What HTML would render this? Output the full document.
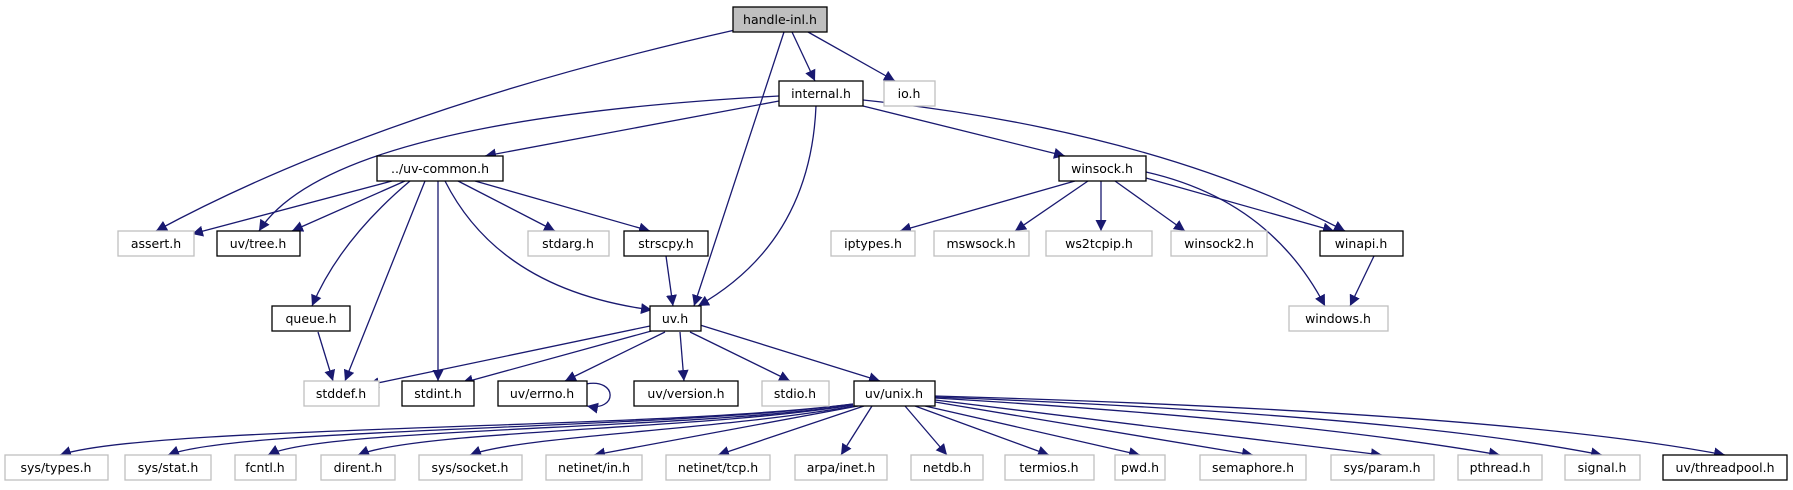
<!DOCTYPE html>
<html><head><meta charset="utf-8"><style>
body{margin:0;background:#fff;}
svg text{font-family:"DejaVu Sans","Liberation Sans",sans-serif;font-size:12.5px;fill:#000;}
</style></head><body>
<svg width="1793" height="485" viewBox="0 0 1793 485" xmlns="http://www.w3.org/2000/svg">
<defs><marker id="a" viewBox="0 0 10 10" refX="10" refY="5" markerWidth="11" markerHeight="11" markerUnits="userSpaceOnUse" orient="auto"><path d="M0,0 L10,5 L0,10 z" fill="#191970"/></marker></defs>
<g fill="none" stroke="#191970" stroke-width="1.3" marker-end="url(#a)">
<path d="M735,30 Q380,110 156,231"/>
<path d="M792,32 L815,81"/>
<path d="M808,32 L895,81"/>
<path d="M784,32 L694,306"/>
<path d="M779,96 Q330,120 259,231"/>
<path d="M779,101 L485,156"/>
<path d="M816,106 C812,200 770,265 698,306"/>
<path d="M863,106 L1065,156"/>
<path d="M863,100 Q1150,130 1345,231"/>
<path d="M392,181 L192,234"/>
<path d="M405,181 L292,231"/>
<path d="M410,181 Q340,240 312,306"/>
<path d="M425,181 L345,381"/>
<path d="M438,181 L438,381"/>
<path d="M445,181 Q500,290 652,310"/>
<path d="M458,181 L555,231"/>
<path d="M475,181 L650,231"/>
<path d="M666,256 L673,306"/>
<path d="M318,332 L333,381"/>
<path d="M1075,181 L900,231"/>
<path d="M1088,181 L1015,231"/>
<path d="M1101,181 L1101,231"/>
<path d="M1115,181 L1185,231"/>
<path d="M1146,178 L1334,231"/>
<path d="M1146,172 Q1270,200 1325,306"/>
<path d="M1374,256 L1350,306"/>
<path d="M650,326 L368,385"/>
<path d="M655,330 L462,383"/>
<path d="M665,332 L565,381"/>
<path d="M680,332 L684,381"/>
<path d="M690,332 L790,381"/>
<path d="M700,325 L880,381"/>
<path d="M586,384 C618,378 618,412 587,406"/>
<path d="M853,404 C650,430 150,425 60,455"/>
<path d="M853,404 C660,430 240,427 168,455"/>
<path d="M853,405 C680,430 320,428 268,455"/>
<path d="M853,405 C700,430 420,430 358,455"/>
<path d="M854,406 C720,430 520,436 470,455"/>
<path d="M858,406 L594,455"/>
<path d="M864,406 L718,455"/>
<path d="M872,406 L841,455"/>
<path d="M905,406 L947,455"/>
<path d="M915,406 L1049,455"/>
<path d="M925,406 L1140,455"/>
<path d="M935,402 L1253,455"/>
<path d="M935,400 L1382,455"/>
<path d="M935,398 Q1300,420 1500,455"/>
<path d="M935,397 Q1400,415 1602,455"/>
<path d="M935,396 Q1500,412 1725,455"/>
</g>
<g stroke-width="1.3">
<rect x="733" y="7" width="94" height="25" fill="#bfbfbf" stroke="#000"/>
<rect x="779" y="81" width="84" height="25" fill="#fff" stroke="#000"/>
<rect x="884" y="81" width="51" height="25" fill="#fff" stroke="#bfbfbf"/>
<rect x="377" y="156" width="126" height="25" fill="#fff" stroke="#000"/>
<rect x="1059" y="156" width="87" height="25" fill="#fff" stroke="#000"/>
<rect x="118" y="231" width="76" height="25" fill="#fff" stroke="#bfbfbf"/>
<rect x="217" y="231" width="83" height="25" fill="#fff" stroke="#000"/>
<rect x="528" y="231" width="81" height="25" fill="#fff" stroke="#bfbfbf"/>
<rect x="624" y="231" width="84" height="25" fill="#fff" stroke="#000"/>
<rect x="831" y="231" width="84" height="25" fill="#fff" stroke="#bfbfbf"/>
<rect x="934" y="231" width="95" height="25" fill="#fff" stroke="#bfbfbf"/>
<rect x="1046" y="231" width="106" height="25" fill="#fff" stroke="#bfbfbf"/>
<rect x="1171" y="231" width="96" height="25" fill="#fff" stroke="#bfbfbf"/>
<rect x="1320" y="231" width="83" height="25" fill="#fff" stroke="#000"/>
<rect x="272" y="306" width="78" height="25" fill="#fff" stroke="#000"/>
<rect x="650" y="306" width="51" height="25" fill="#fff" stroke="#000"/>
<rect x="1289" y="306" width="99" height="25" fill="#fff" stroke="#bfbfbf"/>
<rect x="304" y="381" width="75" height="25" fill="#fff" stroke="#bfbfbf"/>
<rect x="402" y="381" width="72" height="25" fill="#fff" stroke="#000"/>
<rect x="498" y="381" width="89" height="25" fill="#fff" stroke="#000"/>
<rect x="634" y="381" width="104" height="25" fill="#fff" stroke="#000"/>
<rect x="762" y="381" width="67" height="25" fill="#fff" stroke="#bfbfbf"/>
<rect x="854" y="381" width="81" height="25" fill="#fff" stroke="#000"/>
<g fill="#fff" stroke="#bfbfbf">
<rect x="5" y="455" width="103" height="25"/>
<rect x="125" y="455" width="86" height="25"/>
<rect x="235" y="455" width="61" height="25"/>
<rect x="321" y="455" width="74" height="25"/>
<rect x="419" y="455" width="103" height="25"/>
<rect x="546" y="455" width="96" height="25"/>
<rect x="666" y="455" width="104" height="25"/>
<rect x="795" y="455" width="92" height="25"/>
<rect x="911" y="455" width="72" height="25"/>
<rect x="1005" y="455" width="89" height="25"/>
<rect x="1115" y="455" width="50" height="25"/>
<rect x="1200" y="455" width="106" height="25"/>
<rect x="1331" y="455" width="103" height="25"/>
<rect x="1458" y="455" width="84" height="25"/>
<rect x="1565" y="455" width="75" height="25"/>
</g>
<rect x="1663" y="455" width="124" height="25" fill="#fff" stroke="#000"/>
</g>
<g text-anchor="middle">
<text x="780" y="24">handle-inl.h</text>
<text x="821" y="98">internal.h</text>
<text x="909" y="98">io.h</text>
<text x="440" y="173">../uv-common.h</text>
<text x="1102" y="173">winsock.h</text>
<text x="156" y="248">assert.h</text>
<text x="258" y="248">uv/tree.h</text>
<text x="568" y="248">stdarg.h</text>
<text x="666" y="248">strscpy.h</text>
<text x="873" y="248">iptypes.h</text>
<text x="981" y="248">mswsock.h</text>
<text x="1099" y="248">ws2tcpip.h</text>
<text x="1219" y="248">winsock2.h</text>
<text x="1361" y="248">winapi.h</text>
<text x="311" y="323">queue.h</text>
<text x="675" y="323">uv.h</text>
<text x="1338" y="323">windows.h</text>
<text x="341" y="398">stddef.h</text>
<text x="438" y="398">stdint.h</text>
<text x="542" y="398">uv/errno.h</text>
<text x="686" y="398">uv/version.h</text>
<text x="795" y="398">stdio.h</text>
<text x="894" y="398">uv/unix.h</text>
<text x="56" y="472">sys/types.h</text>
<text x="168" y="472">sys/stat.h</text>
<text x="265" y="472">fcntl.h</text>
<text x="358" y="472">dirent.h</text>
<text x="470" y="472">sys/socket.h</text>
<text x="594" y="472">netinet/in.h</text>
<text x="718" y="472">netinet/tcp.h</text>
<text x="841" y="472">arpa/inet.h</text>
<text x="947" y="472">netdb.h</text>
<text x="1049" y="472">termios.h</text>
<text x="1140" y="472">pwd.h</text>
<text x="1253" y="472">semaphore.h</text>
<text x="1382" y="472">sys/param.h</text>
<text x="1500" y="472">pthread.h</text>
<text x="1602" y="472">signal.h</text>
<text x="1725" y="472">uv/threadpool.h</text>
</g>
</svg>
</body></html>
